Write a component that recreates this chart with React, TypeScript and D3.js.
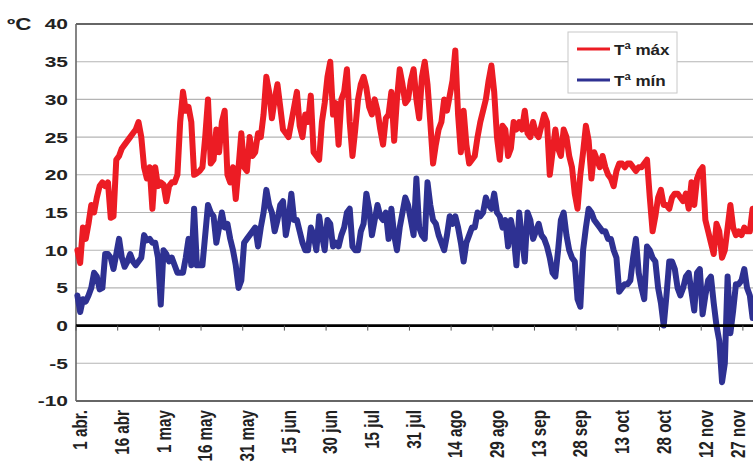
import React from "react";
import * as d3 from "d3";

// daily maximum temperature, 1 abr. .. 30 nov (ºC)
const tMax = [
  10, 8.3, 13, 11.5, 13.5, 16, 15, 17, 18.5, 19,
  18.5, 19, 14.3, 14.5, 22, 22.5, 23.5, 24, 24.5, 25,
  25.5, 26, 27, 25, 21, 19.5, 21, 15.5, 21, 18.5,
  19, 18.7, 16.5, 18.5, 19, 19, 20, 27, 31, 28.5,
  29, 27, 20, 20.2, 20.5, 21, 25, 30, 21.5, 22,
  26, 23, 27, 28.5, 20, 19, 21, 16.8, 21, 25.5,
  21, 20.5, 25, 22.5, 23, 25.5, 25, 28, 33, 31,
  27.5, 30, 32, 29, 26, 25.5, 25, 27, 29, 31,
  26.5, 25, 28, 27, 30.5, 23, 22.5, 22, 27, 29.5,
  33, 35, 28, 29.5, 24, 30, 31, 34, 27, 22.5,
  26, 30, 32, 33, 31.5, 29, 28, 30, 28.5, 26,
  24, 27.5, 28, 31, 24.5, 30, 34, 32, 29.5, 30,
  32.5, 34, 30, 27.5, 33, 35, 32, 27, 21.5, 24,
  26, 27, 30, 28.5, 30.5, 32.5, 36.5, 28, 23, 28.5,
  24, 21.5, 22, 22.5, 25, 27, 28.5, 30, 32.5, 34.5,
  31, 25, 22, 26.5, 26, 22.5, 23.5, 27, 26, 27,
  26, 28.5, 25.5, 25, 27, 25.5, 25, 26.5, 28, 27,
  20, 23, 26, 23.5, 22.5, 26, 25, 22.5, 21, 17.5,
  15.5, 20, 23, 26.5, 24.5, 19.5, 23, 22, 21, 22.5,
  21, 20, 19.5, 18.5, 20.5, 21.5, 21.5, 21, 21.5, 21.5,
  21, 20.5, 21, 21, 21.5, 22, 17, 12.5, 14.5, 17,
  18, 16, 16, 15.5, 17, 17.5, 17.5, 17, 16.5, 17.5,
  15.5, 19, 16, 19.5, 20.5, 21, 14, 12.5, 11, 9.5,
  13.5, 12.5, 9, 10, 13, 16, 13, 12, 12.5, 12,
  13, 12.5, 12.5, 15.5,
];

// daily minimum temperature (ºC)
const tMin = [
  4, 1.8, 3.5, 3.2, 4, 5, 7, 6.5, 4.8, 5,
  9.5, 9.5, 9, 7.5, 9.5, 11.5, 9, 7.8, 8.5, 9.5,
  8.5, 8, 8.5, 9, 12, 11.3, 11.5, 11, 11, 9,
  2.8, 10, 9.5, 8.5, 9, 8, 7, 7, 7, 9,
  11.5, 8, 15.5, 8, 8, 8, 12, 16, 15, 14.5,
  11, 13, 15, 13, 13.5, 11.5, 10, 8, 5, 6,
  11, 11.5, 12, 12.5, 13, 10.5, 13, 15, 18, 16,
  15, 12.5, 14, 16, 16.5, 12, 14, 17.5, 14, 14,
  12.5, 11, 10, 10, 13, 12, 10, 14.5, 12, 10,
  14, 13.5, 10.5, 11, 10.5, 12, 13, 15, 15.5, 10.5,
  10, 10, 12.5, 13.5, 17.5, 15.5, 12, 14, 16, 14.5,
  14, 15, 11.5, 15.5, 12, 10, 13, 15, 17, 16,
  14, 12, 19.5, 13, 12, 11.5, 19, 16, 14, 13.5,
  12, 11, 10, 12, 14.5, 13.5, 14.5, 13, 11, 8.5,
  11, 12, 13, 13, 15, 14.5, 15, 17, 16, 15.5,
  17.5, 15, 14.5, 13, 14, 10.5, 14, 12, 8, 15,
  11.5, 8.5, 15, 14, 11.5, 12.5, 13.5, 12, 11.5, 10.5,
  9, 7, 6.5, 10, 14, 15, 12, 10, 9, 8.5,
  3.5, 2.5, 10, 13, 15.5, 15, 14, 13.5, 13, 12.5,
  12.5, 11.5, 11.5, 10, 9, 4.5, 5, 5.5, 5.5, 6,
  9, 11.5, 7, 5, 3.5, 10.5, 10, 9, 8.5, 5,
  3, 0, 4, 8.5, 8.5, 7.5, 5, 4, 5, 6.5,
  7, 4.5, 2, 7, 7.5, 1.5, 4, 6, 6.5, 3,
  0, -2, -7.5, -5, 6.5, -1, 2, 5.5, 5.5, 6,
  7.5, 5, 4, 1,
];

// every 15th day gets a label
const tickLabels = [
  "1 abr.", "16 abr", "1 may", "16 may", "31 may", "15 jun", "30 jun", "15 jul",
  "31 jul", "14 ago", "29 ago", "13 sep", "28 sep", "13 oct", "28 oct", "12 nov", "27 nov",
];
const yTicks = [-10, -5, 0, 5, 10, 15, 20, 25, 30, 35, 40];

const seriesInfo = [
  { name: "Tª máx", values: tMax, color: "#ec1c24" },
  { name: "Tª mín", values: tMin, color: "#2e3192" },
];

const App = () => {
  const width = 753;
  const height = 465;
  const left = 76;
  const right = 754;
  const top = 24;
  const bottom = 401;
  const font = "'Liberation Sans', Arial, sans-serif";
  const stretch = 1.4; // the picture's lettering is wider than it is tall

  const x = d3.scaleLinear().domain([-0.5, tMax.length - 0.5]).range([left, right]);
  const y = d3.scaleLinear().domain([-10, 40]).range([bottom, top]);

  const line = d3
    .line<number>()
    .x((d, i) => x(i))
    .y(d => y(d));

  return (
    <svg width={width} height={height} style={{ position: "absolute", left: 0, top: 0, background: "#fff" }}>
      {/* gridlines */}
      {yTicks.map(t => (
        <line key={t} x1={left} x2={right} y1={y(t)} y2={y(t)}
          stroke={t === 40 || t === -10 ? "#333" : "#b4b4b4"}
          strokeWidth={t === 40 || t === -10 ? 1.6 : 1.1} />
      ))}
      <line x1={left} x2={left} y1={top} y2={bottom} stroke="#666" strokeWidth={1.6} />

      {/* y labels */}
      {yTicks.map(t => (
        <text key={t} transform={`translate(68,${y(t)}) scale(${stretch},1)`} dy="0.36em" textAnchor="end"
          fontFamily={font} fontWeight="bold" fontSize={15} fill="#222">{t}</text>
      ))}
      <text transform={`translate(7,30) scale(${stretch},1)`} fontFamily={font} fontWeight="bold"
        fontSize={16} fill="#222">ºC</text>

      {/* series */}
      {seriesInfo.map(s => (
        <path key={s.name} d={line(s.values) || ""} fill="none" stroke={s.color}
          strokeWidth={6} strokeLinejoin="round" strokeLinecap="round" />
      ))}

      {/* zero axis with tick marks */}
      <line x1={left} x2={right} y1={y(0)} y2={y(0)} stroke="#000" strokeWidth={2.6} />
      {tickLabels.map((_, k) => (
        <line key={k} x1={x(k * 15 - 0.5)} x2={x(k * 15 - 0.5)} y1={y(0)} y2={y(0) + 5}
          stroke="#555" strokeWidth={1} />
      ))}

      {/* x labels */}
      {tickLabels.map((lab, k) => (
        <text key={lab} transform={`translate(${Math.min(x(k * 15) + 3, 738)},${410}) scale(1.3,1) rotate(-90)`}
          dy="0.35em" textAnchor="end" fontFamily={font} fontWeight="bold" fontSize={15.2} fill="#222">
          {lab}
        </text>
      ))}

      {/* legend */}
      <rect x={568} y={32} width={109} height={61} fill="#fff" stroke="#c8c8c8" strokeWidth={1} />
      {seriesInfo.map((s, i) => (
        <g key={s.name} transform={`translate(577,${49 + i * 31})`}>
          <line x1={0} x2={33} y1={0} y2={0} stroke={s.color} strokeWidth={3} />
          <text transform={`translate(37,0) scale(1.1,1)`} dy="0.36em" fontFamily={font}
            fontWeight="bold" fontSize={15.5} fill="#222">
            {s.name}
          </text>
        </g>
      ))}
    </svg>
  );
};

export default App;
